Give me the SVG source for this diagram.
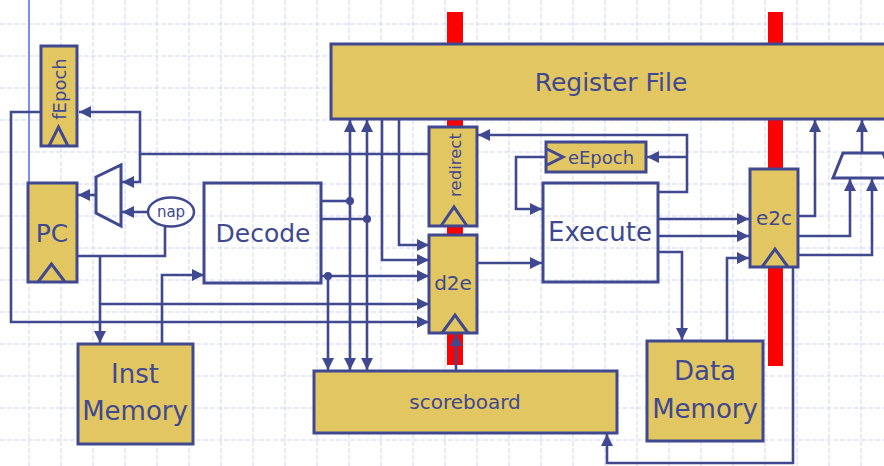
<svg xmlns="http://www.w3.org/2000/svg" width="884" height="466" viewBox="0 0 884 466">
<style>
.grid line{stroke:#cdd5f4;stroke-width:1;stroke-dasharray:5 2}
.box{fill:#e2c662;stroke:#404890;stroke-width:3}
.open{fill:none;stroke:#404890;stroke-width:3}
.clk{fill:none;stroke:#404890;stroke-width:3;stroke-linejoin:miter}
.t{font-family:"DejaVu Sans",sans-serif;fill:#404890;text-anchor:middle}
.w{fill:none;stroke:#404890;stroke-width:2.6}
.a{marker-end:url(#arr)}
.dot{fill:#404890}
.red{fill:#ff0000}
</style>
<defs>
<marker id="arr" markerUnits="userSpaceOnUse" markerWidth="13" markerHeight="13" refX="12" refY="6" orient="auto">
<path d="M0,0 L12,6 L0,12 z" fill="#404890"/>
</marker>
</defs>
<rect width="884" height="466" fill="#ffffff"/>
<g class="grid">
<line x1="29" y1="0" x2="29" y2="466"/><line x1="61" y1="0" x2="61" y2="466"/><line x1="93" y1="0" x2="93" y2="466"/><line x1="125" y1="0" x2="125" y2="466"/><line x1="157" y1="0" x2="157" y2="466"/><line x1="189" y1="0" x2="189" y2="466"/><line x1="221" y1="0" x2="221" y2="466"/><line x1="253" y1="0" x2="253" y2="466"/><line x1="285" y1="0" x2="285" y2="466"/><line x1="317" y1="0" x2="317" y2="466"/><line x1="349" y1="0" x2="349" y2="466"/><line x1="381" y1="0" x2="381" y2="466"/><line x1="413" y1="0" x2="413" y2="466"/><line x1="445" y1="0" x2="445" y2="466"/><line x1="477" y1="0" x2="477" y2="466"/><line x1="509" y1="0" x2="509" y2="466"/><line x1="541" y1="0" x2="541" y2="466"/><line x1="573" y1="0" x2="573" y2="466"/><line x1="605" y1="0" x2="605" y2="466"/><line x1="637" y1="0" x2="637" y2="466"/><line x1="669" y1="0" x2="669" y2="466"/><line x1="701" y1="0" x2="701" y2="466"/><line x1="733" y1="0" x2="733" y2="466"/><line x1="765" y1="0" x2="765" y2="466"/><line x1="797" y1="0" x2="797" y2="466"/><line x1="829" y1="0" x2="829" y2="466"/><line x1="861" y1="0" x2="861" y2="466"/>
<line x1="0" y1="24" x2="884" y2="24"/><line x1="0" y1="56" x2="884" y2="56"/><line x1="0" y1="88" x2="884" y2="88"/><line x1="0" y1="120" x2="884" y2="120"/><line x1="0" y1="152" x2="884" y2="152"/><line x1="0" y1="184" x2="884" y2="184"/><line x1="0" y1="216" x2="884" y2="216"/><line x1="0" y1="248" x2="884" y2="248"/><line x1="0" y1="280" x2="884" y2="280"/><line x1="0" y1="312" x2="884" y2="312"/><line x1="0" y1="344" x2="884" y2="344"/><line x1="0" y1="376" x2="884" y2="376"/><line x1="0" y1="408" x2="884" y2="408"/><line x1="0" y1="440" x2="884" y2="440"/>
</g>
<g id="epoch-bars">
<rect class="red" x="447" y="12" width="16" height="353"/>
<rect class="red" x="768" y="12" width="15" height="354"/>
</g>
<line x1="29" y1="0" x2="29" y2="183" stroke="#7b8ef2" stroke-width="2"/>
<g id="connectors">
<path class="w a" d="M429,154 H140 V112 H79"/>
<path class="w a" d="M140,154 V182 H122"/>
<path class="w a" d="M148,212 H122"/>
<path class="w a" d="M96,195 H78"/>
<path class="w" d="M76,256 H165 V226"/>
<path class="w a" d="M100,256 V343"/>
<path class="w a" d="M100,304 H429"/>
<path class="w a" d="M41,112 H11 V322 H429"/>
<path class="w a" d="M162,344 V275 H204"/>
<path class="w" d="M321,201 H350"/>
<path class="w" d="M321,219 H367"/>
<path class="w a" d="M350,201 V120"/>
<path class="w a" d="M350,201 V370"/>
<path class="w a" d="M367,219 V120"/>
<path class="w a" d="M367,219 V370"/>
<path class="w a" d="M321,276 H429"/>
<path class="w a" d="M328,276 V370"/>
<path class="w a" d="M382,119 V260 H429"/>
<path class="w a" d="M399,119 V245 H429"/>
<path class="w a" d="M477,263 H542"/>
<path class="w a" d="M456,371 V334"/>
<path class="w a" d="M658,192 H687 V135 H478"/>
<path class="w a" d="M687,157 H647"/>
<path class="w a" d="M546,157 H516 V209 H542"/>
<path class="w a" d="M658,219 H749"/>
<path class="w a" d="M658,236 H749"/>
<path class="w a" d="M658,252 H682 V340"/>
<path class="w a" d="M727,341 V258 H749"/>
<path class="w a" d="M798,216 H815 V120"/>
<path class="w a" d="M798,236 H850 V179"/>
<path class="w a" d="M798,255 H872 V179"/>
<path class="w a" d="M862,153 V120"/>
<path class="w a" d="M793,267 V463 H607 V434"/>
<circle class="dot" cx="350" cy="201" r="4"/>
<circle class="dot" cx="367" cy="219" r="4"/>
<circle class="dot" cx="328" cy="276" r="4"/>
</g>
<g id="regfile">
<rect class="box" x="331" y="44" width="570" height="75"/>
<text class="t" x="611" y="91" font-size="25">Register File</text>
</g>
<g id="fEpoch">
<rect class="box" x="41" y="46" width="36" height="100"/>
<polyline class="clk" points="49,146 58.5,127 68,146"/>
<text class="t" font-size="18" transform="translate(66,89) rotate(-90)">fEpoch</text>
</g>
<g id="pc">
<rect class="box" x="28" y="183" width="49" height="99"/>
<polyline class="clk" points="38,282 51.5,264 65,282"/>
<text class="t" x="52" y="242" font-size="25">PC</text>
</g>
<g id="pcmux">
<polygon class="open" fill="#ffffff" points="96,177 121,165 121,226 96,213"/>
</g>
<g id="nap">
<ellipse cx="171" cy="212" rx="23" ry="14.5" fill="#ffffff" stroke="#404890" stroke-width="2.5"/>
<text class="t" x="171" y="217" font-size="15">nap</text>
</g>
<g id="decode">
<rect class="open" x="204" y="183" width="117" height="100"/>
<text class="t" x="263" y="242" font-size="25">Decode</text>
</g>
<g id="instmem">
<rect class="box" x="78" y="344" width="115" height="100"/>
<text class="t" x="135" y="383" font-size="26">Inst</text>
<text class="t" x="135" y="420" font-size="26">Memory</text>
</g>
<g id="redirect">
<rect class="box" x="429" y="127" width="48" height="99"/>
<polyline class="clk" points="441,226 454,207 467,226"/>
<text class="t" font-size="16.5" transform="translate(461,165) rotate(-90)">redirect</text>
</g>
<g id="d2e">
<rect class="box" x="429" y="235" width="48" height="98"/>
<polyline class="clk" points="442,333 455,315 468,333"/>
<text class="t" x="453" y="290" font-size="20">d2e</text>
</g>
<g id="scoreboard">
<rect class="box" x="314" y="371" width="303" height="62"/>
<text class="t" x="465" y="409" font-size="20">scoreboard</text>
</g>
<g id="eEpoch">
<rect class="box" x="546" y="142" width="100" height="30"/>
<polyline class="clk" points="547,149 563,157 547,165"/>
<text class="t" x="601" y="164" font-size="18">eEpoch</text>
</g>
<g id="execute">
<rect class="open" x="543" y="183" width="115" height="99"/>
<text class="t" x="600" y="241" font-size="26">Execute</text>
</g>
<g id="e2c">
<rect class="box" x="750" y="169" width="48" height="98"/>
<polyline class="clk" points="762,267 775,249 788,267"/>
<text class="t" x="774" y="225" font-size="20">e2c</text>
</g>
<g id="datamem">
<rect class="box" x="647" y="341" width="116" height="100"/>
<text class="t" x="705" y="380" font-size="26">Data</text>
<text class="t" x="705" y="418" font-size="26">Memory</text>
</g>
<g id="wbmux">
<polygon class="open" fill="#ffffff" points="843,153 883,153 893,178 833,178"/>
</g>
</svg>
